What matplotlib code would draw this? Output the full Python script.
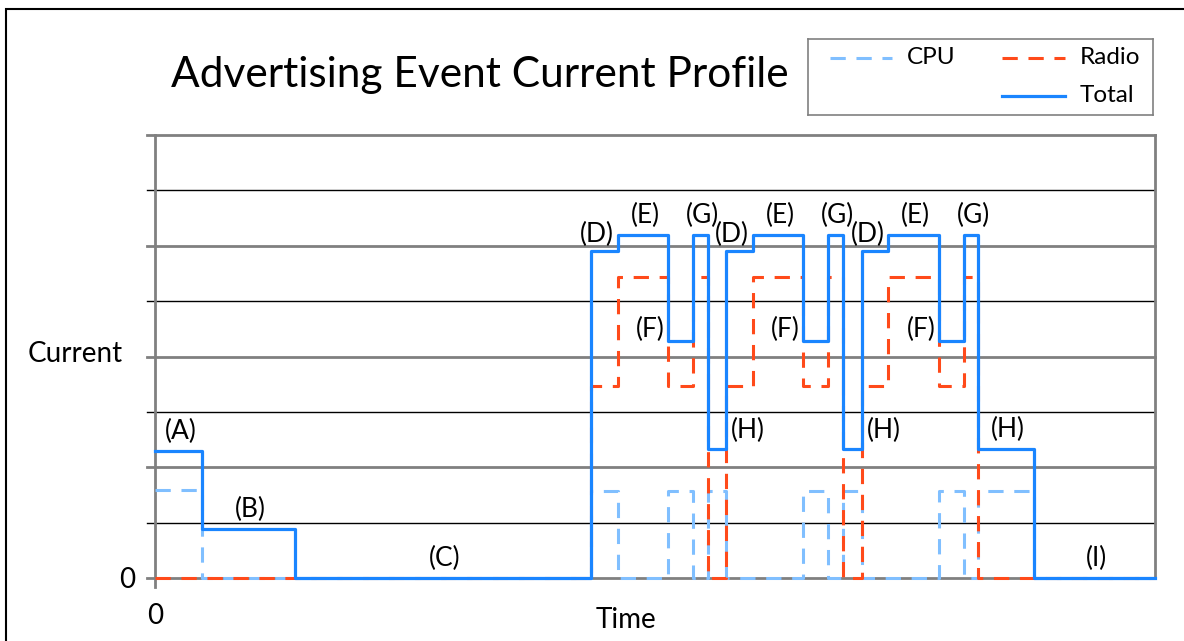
import numpy as np
import matplotlib.pyplot as plt
from matplotlib.patches import Rectangle

plt.rcParams['font.family'] = ['Lato', 'DejaVu Sans']

# Segment boundaries along the time axis (arbitrary units, 0..100)
edges = [0, 4.7, 14.0, 43.6, 46.3, 51.3, 53.8, 55.3, 57.1, 59.8, 64.8,
         67.3, 68.8, 70.7, 73.3, 78.4, 80.9, 82.3, 87.9, 100]
# phase of each segment
phases = ['A', 'B', 'C', 'D', 'E', 'F', 'G', 'H', 'D', 'E', 'F', 'G', 'H',
          'D', 'E', 'F', 'G', 'H', 'I']
# current per segment (grid units)
total = [2.29, 0.88, 0, 5.9, 6.19, 4.28, 6.19, 2.33, 5.9, 6.19, 4.28, 6.19, 2.33,
         5.9, 6.19, 4.28, 6.19, 2.33, 0]
cpu = [1.59, 0, 0, 1.58, 0, 1.58, 0, 1.58, 0, 0, 1.58, 0, 1.58,
       0, 0, 1.58, 0, 1.58, 0]
radio = [0, 0, 0, 3.47, 5.43, 3.47, 5.43, 0, 3.47, 5.43, 3.47, 5.43, 0,
         3.47, 5.43, 3.47, 5.43, 0, 0]

c_total = '#1a85ff'
c_cpu = '#80bfff'
c_radio = '#ff4a1a'

W, H = 1184, 641
fig = plt.figure(figsize=(W / 100, H / 100), dpi=100)
ax = fig.add_axes([155 / W, 1 - 578 / H, 1000 / W, 443 / H])
ax.set_xlim(0, 100)
ax.set_ylim(0, 8)
for s in ax.spines.values():
    s.set_visible(False)

# grid lines, alternating grey / black, sticking out a bit on the left
for g in range(9):
    if g % 2 == 0:
        ax.plot([-0.8, 100], [g, g], color='#808080', lw=2.0, clip_on=False, zorder=1)
    else:
        ax.plot([-0.8, 100], [g, g], color='black', lw=1.0, clip_on=False, zorder=1)
ax.plot([0, 0], [-0.16, 8], color='#808080', lw=2.0, clip_on=False, zorder=1)
ax.plot([100, 100], [0, 8], color='#808080', lw=2.0, clip_on=False, zorder=1)

x = np.array(edges)
def stepvals(v):
    return np.append(v, v[-1])

ax.step(x, stepvals(cpu), where='post', color=c_cpu, lw=2.2, ls=(0, (5, 3.5)), zorder=3, clip_on=False)
ax.step(x, stepvals(radio), where='post', color=c_radio, lw=2.2, ls=(0, (5, 3.5)), zorder=4, clip_on=False)
ax.step(x, stepvals(total), where='post', color=c_total, lw=2.3, zorder=5, clip_on=False)

# phase labels
fs = 19
for i, p in enumerate(phases):
    x0, x1 = edges[i], edges[i + 1]
    y = total[i]
    if p == 'F':
        ax.text(x0 - 0.3, y + 0.2, '(F)', ha='right', va='center', fontsize=fs)
    elif p == 'H' and i < len(phases) - 2:
        ax.text(x1 + 0.5, y + 0.34, '(H)', ha='left', va='center', fontsize=fs)
    elif p == 'D':
        ax.text((x0 + x1) / 2 - 0.75, y + 0.3, '(D)', ha='center', va='center', fontsize=fs)
    else:
        ax.text((x0 + x1) / 2 + 0.2, y + 0.35, '(%s)' % p, ha='center', va='center', fontsize=fs)

ax.set_xticks([0])
ax.set_xticklabels(['0'], fontsize=20)
ax.set_yticks([0])
ax.set_yticklabels(['0'], fontsize=20)
ax.tick_params(length=0)
ax.tick_params(axis='y', pad=14)
ax.tick_params(axis='x', pad=18)
ax.text(-3.2, 4.05, 'Current', ha='right', va='center', fontsize=20)
ax.text(47.1, -0.75, 'Time', ha='center', va='center', fontsize=20)

fig.text(480 / W, 1 - 75 / H, 'Advertising Event Current Profile', ha='center', va='center', fontsize=30.5)

# outer frame
fig.add_artist(Rectangle((6 / W, -0.1), 1.2, 1.1 - 9 / H, transform=fig.transFigure,
                         fill=False, ec='black', lw=1.5))

# legend box
lg = fig.add_axes([808 / W, 1 - 115 / H, 345 / W, 76 / H])
lg.set_xlim(0, 345)
lg.set_ylim(76, 0)
lg.set_xticks([])
lg.set_yticks([])
for s in lg.spines.values():
    s.set_color('#808080')
    s.set_linewidth(1.2)
lg.plot([22, 84], [19, 19], color=c_cpu, lw=2.2, ls=(0, (5, 3.5)))
lg.text(99, 19, 'CPU', va='center', fontsize=17.5)
lg.plot([194, 257], [19, 19], color=c_radio, lw=2.2, ls=(0, (5, 3.5)))
lg.text(272, 19, 'Radio', va='center', fontsize=17.5)
lg.plot([194, 257], [57, 57], color=c_total, lw=2.3)
lg.text(272, 57, 'Total', va='center', fontsize=17.5)

fig.savefig('out.png', dpi=100)
